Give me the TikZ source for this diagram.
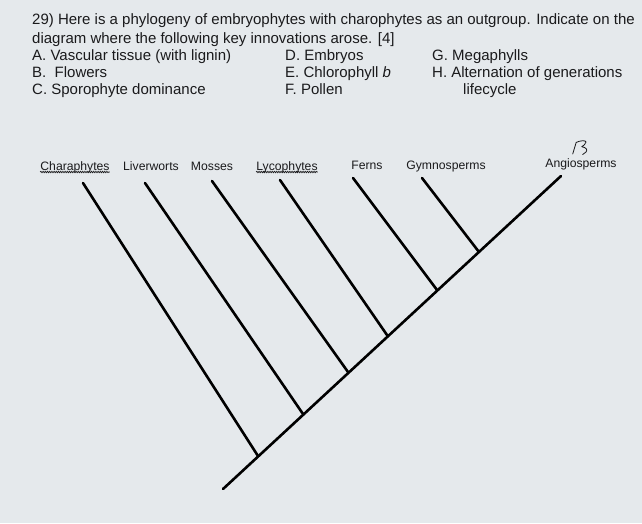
\documentclass[tikz,border=0pt]{standalone}
\usepackage{fontspec}
\setmainfont{Liberation Sans}
\usetikzlibrary{decorations.pathmorphing}
\definecolor{paper}{RGB}{229,233,236}
\definecolor{ink}{RGB}{26,26,28}
\begin{document}
\begin{tikzpicture}[x=1pt,y=-1pt,
  header/.style={anchor=base west, inner sep=0pt, font=\fontsize{15}{17}\selectfont, text=ink},
  taxon/.style={anchor=base, inner sep=0pt, font=\fontsize{12.2}{14}\selectfont, text=ink},
  branch/.style={line width=2.6pt, draw=black, line cap=round},
  squiggle/.style={decorate, decoration={snake, amplitude=0.7pt, segment length=2.2pt}, line width=0.7pt, draw=ink},
  handw/.style={line width=0.8pt, draw=ink, line cap=round, line join=round}]
\fill[paper] (0,0) rectangle (642,523);
\useasboundingbox (0,0) rectangle (642,523);

% question text
\node[header] (q1) at (32,24) {29) Here is a phylogeny of embryophytes with charophytes as an outgroup. Indicate on the};
\node[header] (q2) at (32,43) {diagram where the following key innovations arose. [4]};
\node[header] (a) at (32,60) {A. Vascular tissue (with lignin)};
\node[header] (b) at (32,77) {B.\ \ Flowers};
\node[header] (c) at (32,94) {C. Sporophyte dominance};
\node[header] (d) at (285,60) {D. Embryos};
\node[header] (e) at (285,77) {E. Chlorophyll \textit{b}};
\node[header] (f) at (285,94) {F. Pollen};
\node[header] (g) at (432,60) {G. Megaphylls};
\node[header] (h) at (432,77) {H. Alternation of generations};
\node[header] (h2) at (463,94) {lifecycle};

% taxon labels
\node[taxon] (lchar) at (75,170) {Charaphytes};
\node[taxon] (lliv) at (151,170) {Liverworts};
\node[taxon] (lmos) at (212,170) {Mosses};
\node[taxon] (llyc) at (287,170) {Lycophytes};
\node[taxon] (lfer) at (367,169) {Ferns};
\node[taxon] (lgym) at (446,169) {Gymnosperms};
\node[taxon] (lang) at (581,167) {Angiosperms};
\draw[squiggle] ([yshift=-2pt]lchar.base west) -- ([yshift=-2pt]lchar.base east);
\draw[squiggle] ([yshift=-2pt]llyc.base west) -- ([yshift=-2pt]llyc.base east);

% handwritten mark
\draw[handw] (572.7,154) -- (576,143);
\draw[handw] (576,142.5) .. controls (580,140.5) and (586,140) .. (586,142)
  .. controls (586,144) and (583,146) .. (581.7,146.7)
  .. controls (586,147.5) and (588,149.5) .. (586,152)
  .. controls (585,153.5) and (584,154) .. (582.7,154.5);

% tree
\coordinate (root) at (223,489);
\coordinate (j1) at (258,456);
\coordinate (j2) at (303,414);
\coordinate (j3) at (348,372);
\coordinate (j4) at (387,335);
\coordinate (j5) at (437,290);
\coordinate (j6) at (479,252);
\coordinate (t1) at (83,183);
\coordinate (t2) at (145,183);
\coordinate (t3) at (212,181);
\coordinate (t4) at (280,180);
\coordinate (t5) at (353,178);
\coordinate (t6) at (422,178);
\coordinate (t7) at (561,176);

\draw[branch] (root) -- (t7);
\draw[branch] (t1) -- (j1);
\draw[branch] (t2) -- (j2);
\draw[branch] (t3) -- (j3);
\draw[branch] (t4) -- (j4);
\draw[branch] (t5) -- (j5);
\draw[branch] (t6) -- (j6);
\end{tikzpicture}
\end{document}
